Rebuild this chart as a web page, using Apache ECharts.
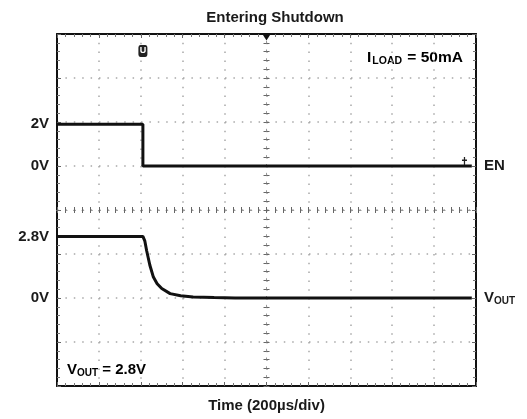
<!DOCTYPE html>
<html>
<head>
<meta charset="utf-8">
<script src="https://cdn.jsdelivr.net/npm/echarts@6/dist/echarts.min.js"></script>
<style>
html,body{margin:0;padding:0;background:#fff;}
#chart{width:527px;height:419px;}
</style>
</head>
<body>
<div id="chart"></div>
<script>
// ---- data (time in µs, voltages in V) ----
const timeEN = [0, 410, 410, 1980];
const enVolts = [1.9, 1.9, 0, 0];
const timeVout = [0, 410, 419, 428, 443, 460, 478, 500, 540, 590, 650, 750, 850, 1980];
const voutVolts = [2.8, 2.8, 2.6, 2.15, 1.5, 0.95, 0.65, 0.43, 0.2, 0.1, 0.05, 0.02, 0, 0];
const enLevelLabels = ['2V', '0V'];
const enLevelValues = [1.9, 0];
const voutLevelLabels = ['2.8V', '0V'];
const voutLevelValues = [2.8, 0];
const titleText = 'Entering Shutdown';
const xAxisTitle = 'Time (200µs/div)';

const FONT = '"Liberation Sans", Arial, sans-serif';
const TXT = '#1a1a1a';
const zip = (a, b) => a.map((v, i) => [v, b[i]]);

const chart = echarts.init(document.getElementById('chart'));

const gridDotH = { color: '#a8a8a8', width: 1.5, type: [1.5, 6.9] };
const gridDotV = { color: '#a8a8a8', width: 1.5, type: [1.5, 7.3] };

function borderX(pos, split) {
  return {
    type: 'value', position: pos, min: 0, max: 2000, interval: 200,
    axisLine: { show: true, onZero: false, lineStyle: { color: '#111', width: 2 } },
    axisTick: { show: true, inside: true, length: 4, lineStyle: { color: '#666' } },
    minorTick: { show: true, splitNumber: 5, length: 3, lineStyle: { color: '#777' } },
    axisLabel: { show: false },
    splitLine: { show: split, lineStyle: gridDotV },
    name: pos === 'bottom' ? xAxisTitle : '',
    nameLocation: 'middle', nameGap: 12,
    nameTextStyle: { fontFamily: FONT, fontWeight: 'bold', fontSize: 15, color: TXT, verticalAlign: 'top' }
  };
}
function borderY(pos, min, max, split) {
  return {
    type: 'value', position: pos, min: min, max: max, interval: 2,
    axisLine: { show: true, onZero: false, lineStyle: { color: '#111', width: 2 } },
    axisTick: { show: true, inside: true, length: 4, lineStyle: { color: '#666' } },
    minorTick: { show: true, splitNumber: 5, length: 3, lineStyle: { color: '#777' } },
    axisLabel: { show: false },
    splitLine: { show: split, lineStyle: gridDotH }
  };
}
function centerX(pos) {
  return {
    type: 'value', position: pos, min: -5, max: 5, interval: 1,
    axisLine: { show: true, onZero: true, onZeroAxisIndex: 2, lineStyle: { color: '#999', width: 1, type: [1.5, 6.9] } },
    axisTick: { show: true, inside: true, length: 3, lineStyle: { color: '#666' } },
    minorTick: { show: true, splitNumber: 5, length: 3, lineStyle: { color: '#666' } },
    axisLabel: { show: false }, splitLine: { show: false }
  };
}
function centerY(pos) {
  return {
    type: 'value', position: pos, min: -4, max: 4, interval: 1,
    axisLine: { show: true, onZero: true, onZeroAxisIndex: 2, lineStyle: { color: '#999', width: 1, type: [1.5, 7.3] } },
    axisTick: { show: true, inside: true, length: 3, lineStyle: { color: '#666' } },
    minorTick: { show: true, splitNumber: 5, length: 3, lineStyle: { color: '#666' } },
    axisLabel: { show: false }, splitLine: { show: false }
  };
}

const labelSeries = (xVal, yIdx, labels, values, pos, rich) => ({
  type: 'scatter', xAxisIndex: 0, yAxisIndex: yIdx, symbolSize: 0, silent: true, z: 5,
  itemStyle: { opacity: 1 },
  data: values.map((v, i) => ({ value: [xVal, v], name: labels[i] })),
  label: {
    show: true, position: pos, distance: 8, opacity: 1,
    formatter: p => p.name,
    fontFamily: FONT, fontWeight: 'bold', fontSize: 15, color: TXT,
    rich: rich || {}
  }
});

const subRich = {
  b: { fontFamily: FONT, fontWeight: 'bold', fontSize: 15, color: TXT },
  s: { fontFamily: FONT, fontWeight: 'bold', fontSize: 10, color: TXT, padding: [7, 0, 0, 0] }
};
const subRichWide = {
  b: { fontFamily: FONT, fontWeight: 'bold', fontSize: 15.5, color: TXT },
  s: { fontFamily: FONT, fontWeight: 'bold', fontSize: 10.5, color: TXT, padding: [7, 1, 0, 1] }
};

chart.setOption({
  animation: false,
  title: {
    text: titleText, left: 270, top: 5, textAlign: 'center',
    textStyle: { fontFamily: FONT, fontWeight: 'bold', fontSize: 15, color: TXT }
  },
  grid: { left: 57, top: 34, width: 419, height: 352 },
  xAxis: [borderX('bottom', true), borderX('top', false), centerX('bottom'), centerX('top')],
  yAxis: [borderY('left', -10, 6, true), borderY('right', -4, 12, false), centerY('left'), centerY('right')],
  graphic: [
    { type: 'text', left: 367, top: 50, style: { text: '{b|I}{s|LOAD}{b| = 50mA}', rich: subRichWide } },
    { type: 'text', left: 67, top: 362, style: { text: '{b|V}{s|OUT}{b| = 2.8V}', rich: subRich } }
  ],
  series: [
    {
      name: 'EN', type: 'line', xAxisIndex: 0, yAxisIndex: 0,
      data: zip(timeEN, enVolts), showSymbol: false, z: 4,
      lineStyle: { color: '#111', width: 3 },
      markPoint: {
        silent: true,
        data: [
          { coord: [1000, 6], symbol: 'triangle', symbolRotate: 180, symbolSize: [9, 7], symbolOffset: [0, 3], itemStyle: { color: '#111' }, label: { show: false } },
          { coord: [410, 6], symbol: 'roundRect', symbolSize: [9, 12], symbolOffset: [0, 17], itemStyle: { color: '#222' },
            label: { show: true, position: 'inside', formatter: 'U', color: '#fff', fontSize: 9, fontWeight: 'bold', fontFamily: FONT } },
          { coord: [1945, 0], symbol: 'path://M3,0h2v10h-2z M0,3h8v2h-8z', symbolSize: [5, 8], symbolOffset: [0, -5], itemStyle: { color: '#222' }, label: { show: false } }
        ]
      }
    },
    {
      name: 'VOUT', type: 'line', xAxisIndex: 0, yAxisIndex: 1,
      data: zip(timeVout, voutVolts), showSymbol: false, z: 4,
      lineStyle: { color: '#111', width: 3 }
    },
    labelSeries(0, 0, enLevelLabels, enLevelValues, 'left'),
    labelSeries(0, 1, voutLevelLabels, voutLevelValues, 'left'),
    labelSeries(2000, 0, ['EN'], [0], 'right'),
    labelSeries(2000, 1, ['{b|V}{s|OUT}'], [0], 'right', subRich)
  ]
});
</script>
</body>
</html>
